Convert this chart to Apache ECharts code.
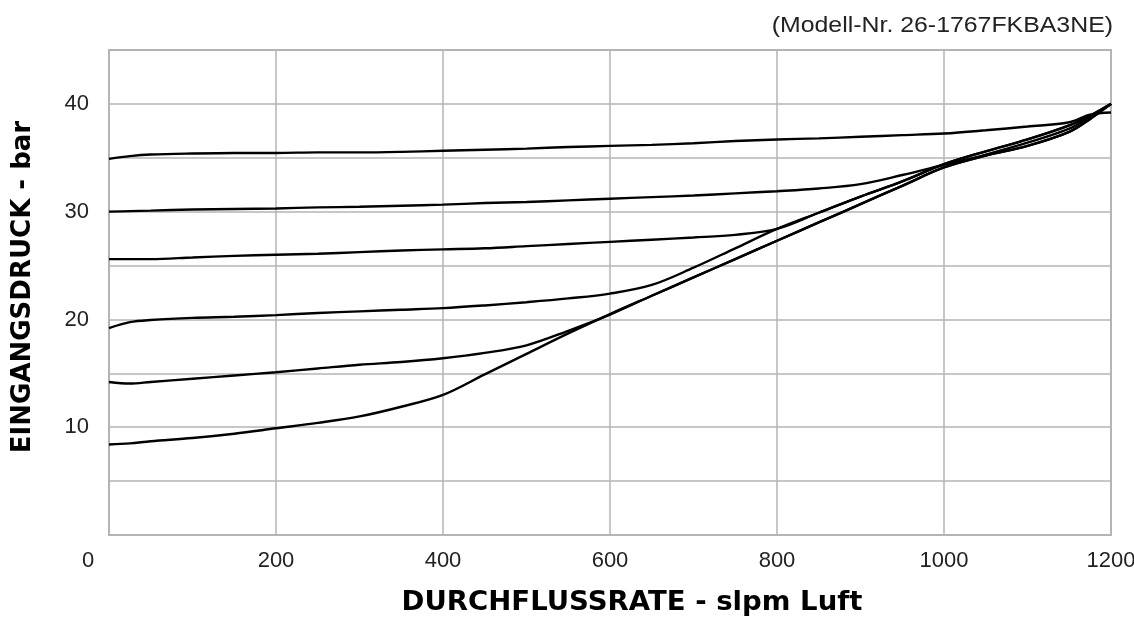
<!DOCTYPE html>
<html>
<head>
<meta charset="utf-8">
<script src="https://cdn.jsdelivr.net/npm/echarts@6/dist/echarts.min.js"></script>
<style>html,body{margin:0;padding:0;background:#fff}#c{width:1134px;height:621px}</style>
</head>
<body>
<div id="c"></div>
<script>
const flow = [0, 25, 50, 100, 150, 200, 250, 300, 350, 400, 450, 500, 550, 600, 650, 700, 750, 800, 850, 900, 950, 1000, 1050, 1100, 1150, 1175, 1200];
const p35 = [34.9, 35.15, 35.3, 35.4, 35.45, 35.45, 35.5, 35.5, 35.55, 35.65, 35.75, 35.85, 36.0, 36.1, 36.2, 36.35, 36.55, 36.7, 36.8, 36.95, 37.1, 37.25, 37.55, 37.9, 38.3, 39.0, 39.2];
const p30 = [30.0, 30.05, 30.1, 30.2, 30.25, 30.3, 30.4, 30.45, 30.55, 30.65, 30.8, 30.9, 31.05, 31.2, 31.35, 31.5, 31.7, 31.9, 32.15, 32.55, 33.4, 34.35, 35.3, 36.4, 37.7, 38.8, 40.0];
const p25 = [25.6, 25.6, 25.6, 25.75, 25.9, 26.0, 26.1, 26.25, 26.4, 26.5, 26.6, 26.8, 27.0, 27.2, 27.4, 27.6, 27.85, 28.4, 29.9, 31.4, 32.8, 34.4, 35.6, 36.7, 38.0, 38.9, 40.0];
const p20 = [19.2, 19.75, 19.95, 20.15, 20.25, 20.4, 20.6, 20.75, 20.9, 21.05, 21.3, 21.6, 21.95, 22.4, 23.2, 24.8, 26.6, 28.4, 29.9, 31.4, 32.8, 34.4, 35.6, 36.7, 38.0, 38.9, 40.0];
const p14 = [14.2, 14.05, 14.2, 14.5, 14.8, 15.1, 15.45, 15.8, 16.05, 16.4, 16.9, 17.6, 18.95, 20.45, 22.2, 23.9, 25.6, 27.3, 29.0, 30.7, 32.4, 34.1, 35.2, 36.1, 37.4, 38.6, 40.0];
const p8 = [8.4, 8.5, 8.7, 9.0, 9.4, 9.9, 10.4, 11.0, 11.9, 13.0, 14.9, 16.8, 18.7, 20.5, 22.2, 23.9, 25.6, 27.3, 29.0, 30.7, 32.4, 34.1, 35.2, 36.1, 37.4, 38.6, 40.0];
const curves = [p35, p30, p25, p20, p14, p8];
const yTickLabels = [10, 20, 30, 40];
const xTickLabels = [0, 200, 400, 600, 800, 1000, 1200];
const modelText = '(Modell-Nr. 26-1767FKBA3NE)';
const xTitle = 'DURCHFLUSSRATE - slpm Luft';
const yTitle = 'EINGANGSDRUCK - bar';

const chart = echarts.init(document.getElementById('c'), null, {renderer: 'canvas'});
const grey = '#b4b4b4';
const tickFont = 'Liberation Sans, Arial, sans-serif';
chart.setOption({
  animation: false,
  backgroundColor: '#fff',
  grid: {left: 109, right: 23, top: 50, bottom: 86, containLabel: false, outerBoundsMode: 'none', show: true, borderColor: grey, borderWidth: 2, backgroundColor: 'transparent'},
  xAxis: {
    type: 'value', min: 0, max: 1200, interval: 200,
    axisLine: {show: true, lineStyle: {color: grey, width: 2}},
    axisTick: {show: false},
    splitLine: {show: true, lineStyle: {color: grey, width: 1.5}},
    axisLabel: {
      margin: 15, color: '#222', fontFamily: tickFont, fontSize: 22,
      formatter: v => xTickLabels.indexOf(v) === 0 ? '{z|' + v + '}' : (xTickLabels.indexOf(v) >= 0 ? String(v) : ''),
      rich: {z: {padding: [0, 42, 0, 0], fontFamily: tickFont, fontSize: 22, color: '#222'}}
    }
  },
  yAxis: {
    type: 'value', min: 0, max: 45, interval: 5,
    axisLine: {show: true, lineStyle: {color: grey, width: 2}},
    axisTick: {show: false},
    splitLine: {show: true, lineStyle: {color: grey, width: 1.5}},
    axisLabel: {
      margin: 20, color: '#222', fontFamily: tickFont, fontSize: 22,
      formatter: v => yTickLabels.indexOf(v) >= 0 ? String(v) : ''
    }
  },
  graphic: [
    {type: 'text', x: 1113, y: 26, scaleX: 1.13, style: {text: modelText, fill: '#222', font: '22px "Liberation Sans", Arial, sans-serif', textAlign: 'right', textVerticalAlign: 'middle'}},
    {type: 'text', x: 632, y: 603, scaleX: 1.06, style: {text: xTitle, fill: '#000', font: 'bold 26px "DejaVu Sans", sans-serif', textAlign: 'center', textVerticalAlign: 'middle'}},
    {type: 'text', x: 23, y: 287, rotation: Math.PI / 2, style: {text: yTitle, fill: '#000', font: 'bold 26px "DejaVu Sans", sans-serif', textAlign: 'center', textVerticalAlign: 'middle'}}
  ],
  series: curves.map(c => ({
    type: 'line', smooth: 0.35, showSymbol: false, symbol: 'none',
    lineStyle: {color: '#000', width: 2.4},
    data: flow.map((x, i) => [x, c[i]])
  }))
});
</script>
</body>
</html>
